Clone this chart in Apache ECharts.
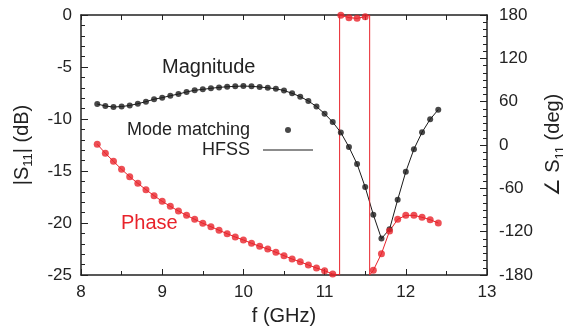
<!DOCTYPE html>
<html>
<head>
<meta charset="utf-8">
<script src="https://cdn.jsdelivr.net/npm/echarts@6/dist/echarts.min.js"></script>
<style>
  html, body { margin: 0; padding: 0; background: #fff; }
  #chart { width: 563px; height: 329px; }
</style>
</head>
<body>
<div id="chart"></div>
<script>
// frequency points (GHz)
const freq = [8.2, 8.3, 8.4, 8.5, 8.6, 8.7, 8.8, 8.9, 9.0, 9.1, 9.2, 9.3, 9.4, 9.5, 9.6, 9.7, 9.8, 9.9,
  10.0, 10.1, 10.2, 10.3, 10.4, 10.5, 10.6, 10.7, 10.8, 10.9, 11.0, 11.1, 11.2, 11.3, 11.4, 11.5, 11.6,
  11.7, 11.8, 11.9, 12.0, 12.1, 12.2, 12.3, 12.4];

// |S11| in dB
const magnitude = [-8.56, -8.75, -8.85, -8.8, -8.7, -8.53, -8.33, -8.1, -7.95, -7.76, -7.6, -7.4, -7.24,
  -7.15, -7.05, -6.96, -6.9, -6.86, -6.83, -6.86, -6.92, -7.0, -7.1, -7.26, -7.53, -7.85, -8.27, -8.8,
  -9.49, -10.3, -11.3, -12.7, -14.33, -16.55, -19.2, -21.5, -20.6, -17.76, -15.07, -12.9, -11.28, -10.03, -9.1];

// angle S11 in degrees
const phase = [1, -11.5, -22.6, -33.7, -43.9, -53.1, -61.9, -70.2, -78, -84.9, -91.4, -97.4, -102.9,
  -108.4, -113.1, -118.1, -122.8, -127.4, -131.5, -136.1, -140.3, -144, -148.6, -153.2, -157.9, -161.8,
  -166.2, -170.3, -174.1, -178.6, 179.5, 176.3, 175.4, 177.7, -173.5, -150.5, -119.1, -102.9, -97.4,
  -97.4, -100.1, -103.4, -108];

// frequencies where the phase wraps between -180 and 180
const phaseWrap = [11.185, 11.555];

const RED = '#e8232b';
const INK = '#1a1a1a';
const FONT = '"Liberation Sans", Arial, "DejaVu Sans", sans-serif';

const magPts = freq.map((f, i) => [f, magnitude[i]]);
const phasePts = freq.map((f, i) => [f, phase[i]]);

// HFSS phase line: break the curve at the wrap points
const phaseLine = [];
let w = 0;
for (let i = 0; i < freq.length; i++) {
  phaseLine.push([freq[i], phase[i]]);
  if (i < freq.length - 1 && Math.abs(phase[i + 1] - phase[i]) > 180) {
    const from = phase[i] < 0 ? -180 : 180;
    phaseLine.push([phaseWrap[w], from], [phaseWrap[w], -from]);
    w++;
  }
}

const chart = echarts.init(document.getElementById('chart'), null, { renderer: 'canvas' });

const axisLine = { show: true, onZero: false, lineStyle: { color: '#222', width: 1.5 } };

chart.setOption({
  animation: false,
  textStyle: { fontFamily: FONT },
  grid: { left: 81, right: 76, top: 15, bottom: 54, outerBoundsMode: 'none', containLabel: false },
  legend: {
    orient: 'vertical',
    align: 'right',
    right: 250,
    top: 120,
    padding: 0,
    itemGap: 0,
    itemWidth: 50,
    itemHeight: 6,
    data: [
      { name: 'Mode matching', icon: 'circle' },
      { name: 'HFSS', icon: 'path://M0 0H50V1H0Z' }
    ],
    textStyle: { fontFamily: FONT, fontSize: 18, color: '#222', lineHeight: 20, padding: [0, 8, 0, 0] }
  },
  xAxis: [
    {
      type: 'value', min: 8, max: 13, interval: 1,
      name: 'f (GHz)', nameLocation: 'middle', nameGap: 31,
      nameTextStyle: { fontSize: 20, color: '#222', fontFamily: FONT },
      axisLine: axisLine,
      axisTick: { inside: true, length: 6, lineStyle: { color: '#222' } },
      minorTick: { show: true, splitNumber: 2, length: 4, lineStyle: { color: '#222' } },
      axisLabel: { fontSize: 17, color: '#222', margin: 9 },
      splitLine: { show: false }
    },
    {
      type: 'value', min: 8, max: 13, interval: 0.5, position: 'top',
      axisLine: axisLine,
      axisTick: { inside: true, length: 5, lineStyle: { color: '#222' } },
      axisLabel: { show: false },
      splitLine: { show: false }
    }
  ],
  yAxis: [
    {
      type: 'value', min: -25, max: 0, interval: 5,
      name: '{n||S}{s|11}{n|| (dB)}', nameLocation: 'middle', nameGap: 46, nameRotate: 90,
      nameTextStyle: {
        color: '#222',
        rich: {
          n: { fontSize: 20, fontFamily: FONT, color: '#222', lineHeight: 26 },
          s: { fontSize: 13, fontFamily: FONT, color: '#222', lineHeight: 26, verticalAlign: 'bottom' }
        }
      },
      axisLine: axisLine,
      axisTick: { inside: true, length: 7, lineStyle: { color: '#222' } },
      minorTick: { show: true, splitNumber: 5, length: 4, lineStyle: { color: '#222' } },
      axisLabel: { fontSize: 17, color: '#222', margin: 9 },
      splitLine: { show: false }
    },
    {
      type: 'value', min: -180, max: 180, interval: 60, position: 'right',
      name: '{n|\u2220 S}{s|11}{n| (deg)}', nameLocation: 'middle', nameGap: 52, nameRotate: 90,
      nameTextStyle: {
        color: '#222',
        rich: {
          n: { fontSize: 20, fontFamily: FONT, color: '#222', lineHeight: 26 },
          s: { fontSize: 13, fontFamily: FONT, color: '#222', lineHeight: 26, verticalAlign: 'bottom' }
        }
      },
      axisLine: axisLine,
      axisTick: { inside: true, length: 7, lineStyle: { color: '#222' } },
      minorTick: { show: true, splitNumber: 6, length: 4, lineStyle: { color: '#222' } },
      axisLabel: { fontSize: 17, color: '#222', margin: 12 },
      splitLine: { show: false }
    }
  ],
  graphic: [
    { type: 'text', left: 162, top: 57, style: { text: 'Magnitude', fill: '#222', font: '20px ' + FONT } },
    { type: 'text', left: 121, top: 213, style: { text: 'Phase', fill: RED, font: '20px ' + FONT } }
  ],
  series: [
    {
      name: 'Mode matching', type: 'scatter', data: magPts, xAxisIndex: 0, yAxisIndex: 0,
      symbol: 'circle', symbolSize: 6, itemStyle: { color: INK }, clip: false, z: 4
    },
    {
      name: 'HFSS', type: 'line', data: magPts, xAxisIndex: 0, yAxisIndex: 0,
      symbol: 'none', lineStyle: { color: INK, width: 1 }, itemStyle: { color: INK }, z: 3
    },
    {
      name: 'Mode matching', type: 'scatter', data: phasePts, xAxisIndex: 0, yAxisIndex: 1,
      symbol: 'circle', symbolSize: 7, itemStyle: { color: RED }, clip: false, z: 4
    },
    {
      name: 'HFSS', type: 'line', data: phaseLine, xAxisIndex: 0, yAxisIndex: 1,
      symbol: 'none', lineStyle: { color: RED, width: 1 }, itemStyle: { color: RED }, z: 3
    }
  ]
});
</script>
</body>
</html>
